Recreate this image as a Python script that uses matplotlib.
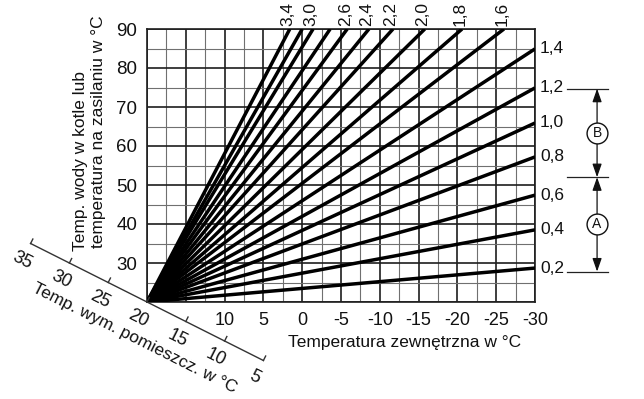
import numpy as np
import matplotlib
matplotlib.use("Agg")
import matplotlib.pyplot as plt
from matplotlib.lines import Line2D

plt.rcParams['font.family'] = ['Liberation Sans', 'DejaVu Sans']

# ---- data ----
origin_out = 20.0          # outdoor temp where all curves start
origin_flow = 20.0         # flow temp where all curves start
curve_slopes = [0.2, 0.4, 0.6, 0.8, 1.0, 1.2, 1.4, 1.6, 1.8, 2.0, 2.2, 2.4, 2.6, 2.8, 3.0, 3.2, 3.4]
curve_end_out = [-30, -30, -30, -30, -30, -30, -30, -26.0, -20.6, -15.8, -11.7, -8.6, -5.8, -3.6, -1.4, 0.0, 1.6]
curve_end_flow = [28.7, 38.5, 47.4, 57.2, 65.9, 74.9, 84.9, 90, 90, 90, 90, 90, 90, 90, 90, 90, 90]
curve_labels = ['0,2', '0,4', '0,6', '0,8', '1,0', '1,2', '1,4', '1,6', '1,8', '2,0', '2,2', '2,4', '2,6', '', '3,0', '', '3,4']

x_major = [20, 15, 10, 5, 0, -5, -10, -15, -20, -25, -30]
x_labels = ['', '', '10', '5', '0', '-5', '-10', '-15', '-20', '-25', '-30']
x_minor = [17.5, 12.5, 7.5, 2.5, -2.5, -7.5, -12.5, -17.5, -22.5, -27.5]
y_major = [20, 30, 40, 50, 60, 70, 80, 90]
y_labels = ['', '30', '40', '50', '60', '70', '80', '90']
y_minor = [25, 35, 45, 55, 65, 75, 85]

room_ticks = [35, 30, 25, 20, 15, 10, 5]

bracket_x = -38.0
bracket_tick = [-34.1, -39.4]
bracket_levels = [74.7, 52.0, 27.8]
bracket_names = ['B', 'A']

# ---- figure ----
W, H = 644, 399
fig = plt.figure(figsize=(W / 100, H / 100), dpi=100)
fig.patch.set_facecolor('white')
ax = fig.add_axes([147 / W, 1 - 302 / H, 388 / W, 273 / H])
ax.set_xlim(20, -30)
ax.set_ylim(20, 90)

ax.set_xticks(x_major)
ax.set_xticklabels(x_labels)
ax.set_xticks(x_minor, minor=True)
ax.set_yticks(y_major)
ax.set_yticklabels(y_labels)
ax.set_yticks(y_minor, minor=True)
ax.tick_params(which='both', length=0)
ax.tick_params(axis='x', labelsize=13, pad=7, colors='#111')
ax.tick_params(axis='y', labelsize=13.5, pad=7, colors='#111')
ax.grid(which='major', color='#1e1e1e', lw=1.2)
ax.grid(which='minor', color='#707070', lw=0.8)
ax.set_axisbelow(True)
for s in ax.spines.values():
    s.set_color('#1e1e1e')
    s.set_linewidth(1.2)

# curves
for sl, xe, ye, lab in zip(curve_slopes, curve_end_out, curve_end_flow, curve_labels):
    ax.plot([origin_out, xe], [origin_flow, ye], color='black', lw=2.5,
            solid_capstyle='butt', zorder=3)
    if lab:
        if ye >= 90:
            ax.annotate(lab, xy=(xe, ye), xytext=(-2, 3), textcoords='offset pixels',
                        rotation=90, ha='center', va='bottom', fontsize=12.5,
                        color='#111', annotation_clip=False)
        else:
            ax.annotate(lab, xy=(xe, ye), xytext=(5, 0), textcoords='offset pixels',
                        ha='left', va='center', fontsize=12.5, color='#111',
                        annotation_clip=False)

# diagonal room-temperature axis (line flow = outdoor)
ax.plot([room_ticks[0], room_ticks[-1]], [room_ticks[0], room_ticks[-1]],
        color='#333333', lw=1.0, clip_on=False, zorder=4)
fig.canvas.draw()
p0 = ax.transData.transform((room_ticks[0], room_ticks[0]))
p1 = ax.transData.transform((room_ticks[-1], room_ticks[-1]))
d = p1 - p0
u = d / np.hypot(*d)
ang = np.degrees(np.arctan2(d[1], d[0]))
nrm_down = np.array([u[1], -u[0]])      # perpendicular, pointing below the line
inv = fig.transFigure.inverted()
for t in room_ticks:
    p = ax.transData.transform((t, t))
    a = inv.transform(p)
    b = inv.transform(p - nrm_down * 5)
    fig.add_artist(Line2D([a[0], b[0]], [a[1], b[1]], color='#333333', lw=1.0))
    off = nrm_down * 19
    ax.annotate(str(t), xy=(t, t), xytext=(off[0], off[1]), textcoords='offset pixels',
                rotation=ang, rotation_mode='anchor', ha='center', va='center',
                fontsize=13, color='#111', annotation_clip=False)
off = nrm_down * 38
ax.annotate('Temp. wym. pomieszcz. w °C', xy=(19.4, 19.4), xytext=(off[0], off[1]),
            textcoords='offset pixels', rotation=ang, rotation_mode='anchor',
            ha='center', va='center', fontsize=12.5, color='#111', annotation_clip=False)

# axis titles
fig.text(405 / W, 1 - 342 / H, 'Temperatura zewnętrzna w °C', ha='center', va='center',
         fontsize=12.5, color='#111')
fig.text(80 / W, 1 - 251 / H, 'Temp. wody w kotle lub', rotation=90,
         ha='center', va='bottom', fontsize=12.5, color='#111')
fig.text(99 / W, 1 - 248 / H, 'temperatura na zasilaniu w °C', rotation=90,
         ha='center', va='bottom', fontsize=12.5, color='#111')

# right-hand range brackets
for lv in bracket_levels:
    ax.plot(bracket_tick, [lv, lv], color='#222', lw=0.9, clip_on=False)
for i, name in enumerate(bracket_names):
    top, bot = bracket_levels[i], bracket_levels[i + 1]
    ax.annotate('', xy=(bracket_x, top), xytext=(bracket_x, bot),
                arrowprops=dict(arrowstyle='<|-|>,head_length=0.8,head_width=0.28',
                                color='#111', lw=0.9, shrinkA=0, shrinkB=0),
                annotation_clip=False)
    mid = (top + bot) / 2
    ax.plot([bracket_x], [mid], marker='o', ms=15, mfc='white', mec='#111', mew=1.0,
            clip_on=False, zorder=5)
    ax.text(bracket_x, mid, name, ha='center', va='center', fontsize=10, color='#111',
            zorder=6, clip_on=False)

fig.savefig('out.png', dpi=100)
